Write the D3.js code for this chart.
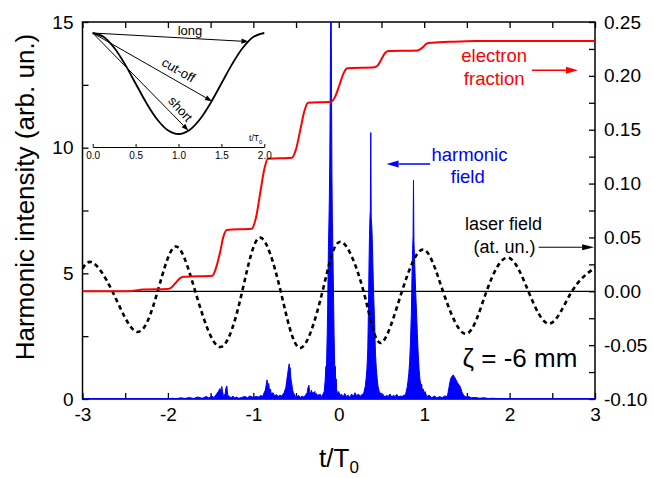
<!DOCTYPE html>
<html>
<head>
<meta charset="utf-8">
<script src="https://cdn.jsdelivr.net/npm/d3@7"></script>
<style>
  body { margin: 0; background: #fff; }
  svg { display: block; font-family: "Liberation Sans", Arial, sans-serif; }
</style>
</head>
<body>
<svg id="chart" width="654" height="478"></svg>
<script>
// ---- axis ticks ----
const xTicks = [-3, -2, -1, 0, 1, 2, 3];
const xMinor = [-2.5, -1.5, -0.5, 0.5, 1.5, 2.5];
const leftTicks = [0, 5, 10, 15];
const leftMinor = [2.5, 7.5, 12.5];
const rightTicks = [-0.10, -0.05, 0.00, 0.05, 0.10, 0.15, 0.20, 0.25];
const rightMinor = [-0.075, -0.025, 0.025, 0.075, 0.125, 0.175, 0.225];

// ---- laser field (at. un., right axis): extrema and zero crossings ----
const laserT = [-3.0, -2.88, -2.65, -2.36, -2.12, -1.91, -1.68, -1.39, -1.13, -0.92, -0.68, -0.45, -0.19,
                0.02, 0.29, 0.49, 0.74, 0.99, 1.22, 1.49, 1.73, 1.98, 2.22, 2.47, 2.73, 3.0];
const laserE = [0.021, 0.0266, 0, -0.0377, 0, 0.0415, 0, -0.0517, 0, 0.0498, 0, -0.0526, 0,
                0.046, 0, -0.048, 0, 0.0387, 0, -0.0395, 0, 0.0312, 0, -0.030, 0, 0.022];

// ---- ionized electron fraction (right axis) ----
const elecT = [-3, -2.5, -2.42, -2.36, -2.3, -2.0, -1.96, -1.91, -1.86, -1.82, -1.48, -1.44, -1.39, -1.35, -1.31,
               -1.02, -0.97, -0.92, -0.87, -0.83, -0.55, -0.5, -0.45, -0.4, -0.36, -0.09, -0.04, 0.01, 0.06, 0.1,
               0.42, 0.46, 0.5, 0.54, 0.58, 0.92, 0.95, 0.99, 1.02, 1.05, 1.3, 1.6, 3];
const elecF = [0, 0, 0.0003, 0.001, 0.0017, 0.0022, 0.0035, 0.0078, 0.012, 0.0134, 0.0145, 0.021, 0.036, 0.051, 0.057,
               0.058, 0.068, 0.091, 0.114, 0.123, 0.124, 0.132, 0.150, 0.168, 0.175, 0.176, 0.181, 0.192, 0.203, 0.207,
               0.208, 0.210, 0.2155, 0.221, 0.223, 0.2235, 0.2245, 0.227, 0.2295, 0.2305, 0.2316, 0.2324, 0.2324];

// ---- harmonic field intensity (left axis): [t/T0, intensity] ----
const harmonic = [
  [-3,0],[-2.0,0],[-1.95,0.03],[-1.9,0.01],[-1.85,0.05],[-1.8,0.02],[-1.75,0.06],[-1.7,0.02],[-1.65,0.08],[-1.6,0.03],
  [-1.55,0.1],[-1.52,0.04],[-1.49,0.12],
  [-1.46,0.06],[-1.43,0.2],[-1.41,0.3],[-1.39,0.42],[-1.38,0.22],[-1.37,0.5],[-1.36,0.3],[-1.35,0.1],[-1.33,0.2],
  [-1.32,0.45],[-1.31,0.52],[-1.3,0.15],[-1.28,0.1],[-1.26,0.05],[-1.24,0.12],[-1.22,0.04],[-1.2,0.08],[-1.17,0.03],
  [-1.14,0.06],[-1.1,0.1],[-1.07,0.05],[-1.04,0.12],[-1.0,0.06],[-0.97,0.1],[-0.94,0.08],[-0.91,0.14],[-0.89,0.1],
  [-0.88,0.2],[-0.86,0.35],[-0.85,0.55],[-0.84,0.76],[-0.83,0.5],[-0.82,0.62],[-0.81,0.3],[-0.8,0.4],[-0.79,0.2],
  [-0.77,0.25],[-0.75,0.12],[-0.73,0.18],[-0.71,0.1],[-0.69,0.15],[-0.67,0.12],[-0.65,0.2],
  [-0.64,0.25],[-0.62,0.45],[-0.61,0.7],[-0.6,0.95],[-0.59,1.2],[-0.58,1.4],[-0.575,1.1],[-0.57,1.25],[-0.56,0.8],
  [-0.55,0.6],[-0.54,0.35],[-0.53,0.25],[-0.51,0.12],[-0.49,0.08],[-0.47,0.15],[-0.45,0.06],[-0.43,0.12],[-0.41,0.08],
  [-0.39,0.15],
  [-0.37,0.25],[-0.36,0.45],[-0.35,0.55],[-0.34,0.3],[-0.33,0.2],[-0.32,0.35],[-0.31,0.2],[-0.3,0.28],[-0.29,0.15],
  [-0.28,0.3],[-0.27,0.12],[-0.26,0.22],[-0.25,0.1],[-0.24,0.18],[-0.23,0.08],[-0.22,0.2],[-0.21,0.1],
  [-0.19,0.15],[-0.17,0.3],[-0.16,0.7],[-0.15,1.3],[-0.145,0.9],[-0.14,1.8],[-0.135,2.6],[-0.13,3.5],[-0.125,5.0],
  [-0.12,6.2],[-0.115,7.0],[-0.11,8.0],[-0.105,9.5],[-0.1,12],[-0.095,15],[-0.09,17],[-0.085,12.5],[-0.08,9.0],
  [-0.075,7.2],[-0.07,6.2],[-0.065,5.0],[-0.06,3.8],[-0.055,2.6],[-0.05,1.8],[-0.045,1.0],[-0.04,1.3],[-0.035,0.6],
  [-0.03,0.8],[-0.025,0.4],[-0.02,0.3],[-0.01,0.15],[0,0.3],[0.01,0.1],[0.03,0.2],[0.05,0.08],[0.07,0.22],[0.09,0.1],
  [0.11,0.15],[0.13,0.06],[0.15,0.2],[0.17,0.1],[0.19,0.25],[0.21,0.12],[0.23,0.2],[0.25,0.1],[0.27,0.18],
  [0.29,0.2],[0.3,0.35],[0.31,0.5],[0.32,0.8],[0.33,1.2],[0.34,2.0],[0.345,3.0],[0.35,4.2],[0.355,5.5],[0.36,6.5],
  [0.365,7.2],[0.37,7.5],[0.375,10.6],[0.38,7.2],[0.385,7.0],[0.39,6.6],[0.395,6.0],[0.4,5.3],[0.405,4.6],[0.41,4.0],
  [0.415,3.5],[0.42,3.0],[0.425,2.4],[0.43,1.8],[0.44,1.2],[0.45,0.8],[0.46,0.5],[0.47,0.35],[0.48,0.2],[0.49,0.25],
  [0.5,0.1],
  [0.52,0.18],[0.54,0.08],[0.56,0.15],[0.58,0.1],[0.6,0.2],[0.62,0.08],[0.64,0.15],[0.66,0.1],[0.68,0.18],[0.7,0.08],
  [0.72,0.12],[0.74,0.1],[0.76,0.15],
  [0.78,0.15],[0.79,0.3],[0.8,0.45],[0.81,0.7],[0.82,1.0],[0.83,1.5],[0.84,2.3],[0.85,3.4],[0.855,4.4],[0.86,5.3],
  [0.865,6.0],[0.87,6.5],[0.875,8.7],[0.88,6.3],[0.885,5.8],[0.89,5.3],[0.895,4.8],[0.9,4.3],[0.91,3.5],[0.92,2.6],
  [0.93,1.8],[0.94,1.2],[0.95,0.8],[0.96,0.55],[0.97,0.6],[0.98,0.3],[0.99,0.4],[1.0,0.2],[1.01,0.3],[1.03,0.1],
  [1.06,0.15],[1.09,0.05],[1.12,0.12],[1.15,0.04],[1.18,0.1],[1.21,0.05],[1.24,0.12],
  [1.27,0.1],[1.28,0.25],[1.29,0.45],[1.3,0.65],[1.31,0.8],[1.32,0.88],[1.33,0.92],[1.34,0.96],[1.35,0.9],[1.36,0.85],
  [1.37,0.78],[1.38,0.72],[1.39,0.65],[1.4,0.6],[1.41,0.55],[1.42,0.5],[1.43,0.42],[1.44,0.3],[1.45,0.22],[1.47,0.12],
  [1.49,0.08],[1.52,0.1],[1.55,0.05],[1.6,0.06],[1.65,0.03],[1.7,0.05],[1.75,0.02],[1.8,0.03],[1.9,0.01],[2.0,0],[3,0]
];

// ---- inset: field cycle and electron trajectories ----
const insetT = [0, 0.125, 0.25, 0.375, 0.5, 0.625, 0.75, 0.875, 1, 1.125, 1.25, 1.375, 1.5, 1.625, 1.75, 1.875, 2];
const insetV = [1, 0.924, 0.707, 0.383, 0, -0.383, -0.707, -0.924, -1, -0.924, -0.707, -0.383, 0, 0.383, 0.707, 0.924, 1];
const insetTicks = [0, 0.5, 1, 1.5, 2];
const trajectories = [
  { name: "long",    end: 1.815, v: 0.83 },
  { name: "cut-off", end: 1.39,  v: -0.35 },
  { name: "short",   end: 1.115, v: -0.93 }
];

const svg = d3.select("#chart");
const L = 82.5, R = 595, T = 22, B = 399;

const x = d3.scaleLinear([-3, 3], [L, R]);
const yL = d3.scaleLinear([0, 15], [B, T]);
const yR = d3.scaleLinear([-0.10, 0.25], [B, T]);

svg.append("defs").append("clipPath").attr("id", "plotClip")
  .append("rect").attr("x", L).attr("y", T).attr("width", R - L).attr("height", B - T);

function styleAxis(g, fs) {
  g.select(".domain").remove();
  g.selectAll(".tick line").attr("stroke", "#000").attr("stroke-width", 1.3);
  g.selectAll(".tick text").attr("fill", "#000").style("font-size", fs + "px")
    .style("font-family", '"Liberation Sans", Arial, sans-serif');
}

// bottom axis
svg.append("g").attr("transform", `translate(0,${B})`)
  .call(d3.axisBottom(x).tickValues(xTicks).tickSize(-6).tickPadding(9).tickFormat(d => String(d)))
  .call(g => styleAxis(g, 19));
svg.append("g").attr("transform", `translate(0,${B})`)
  .call(d3.axisBottom(x).tickValues(xMinor).tickSize(-6).tickFormat(""))
  .call(g => styleAxis(g, 19));
// top axis
svg.append("g").attr("transform", `translate(0,${T})`)
  .call(d3.axisTop(x).tickValues(xTicks.concat(xMinor)).tickSize(-6).tickFormat(""))
  .call(g => styleAxis(g, 19));
// left axis
svg.append("g").attr("transform", `translate(${L},0)`)
  .call(d3.axisLeft(yL).tickValues(leftTicks).tickSize(-6).tickPadding(9).tickFormat(d => String(d)))
  .call(g => styleAxis(g, 19));
svg.append("g").attr("transform", `translate(${L},0)`)
  .call(d3.axisLeft(yL).tickValues(leftMinor).tickSize(-6).tickFormat(""))
  .call(g => styleAxis(g, 19));
// right axis
svg.append("g").attr("transform", `translate(${R},0)`)
  .call(d3.axisRight(yR).tickValues(rightTicks).tickSize(-6).tickPadding(9).tickFormat(d => d.toFixed(2)))
  .call(g => styleAxis(g, 19));
svg.append("g").attr("transform", `translate(${R},0)`)
  .call(d3.axisRight(yR).tickValues(rightMinor).tickSize(-6).tickFormat(""))
  .call(g => styleAxis(g, 19));

// frame
svg.append("rect").attr("x", L).attr("y", T).attr("width", R - L).attr("height", B - T)
  .attr("fill", "none").attr("stroke", "#000").attr("stroke-width", 1.5);

const plot = svg.append("g").attr("clip-path", "url(#plotClip)");

// harmonic field
plot.append("path").datum(harmonic)
  .attr("d", d3.area().x(d => x(d[0])).y0(yL(0)).y1(d => yL(d[1])))
  .attr("fill", "#0000ff").attr("stroke", "#0000ff").attr("stroke-width", 1);
plot.append("line").attr("x1", x(-3)).attr("x2", x(3)).attr("y1", yL(0)).attr("y2", yL(0))
  .attr("stroke", "#0000ff").attr("stroke-width", 1.5);

// zero line of laser field
plot.append("line").attr("x1", x(-3)).attr("x2", x(3)).attr("y1", yR(0)).attr("y2", yR(0))
  .attr("stroke", "#000").attr("stroke-width", 1.2);

// laser field
plot.append("path").datum(laserT.map((t, i) => [t, laserE[i]]))
  .attr("d", d3.line().x(d => x(d[0])).y(d => yR(d[1])).curve(d3.curveNatural))
  .attr("fill", "none").attr("stroke", "#000").attr("stroke-width", 2.6).attr("stroke-dasharray", "4.5,3.5");

// electron fraction
plot.append("path").datum(elecT.map((t, i) => [t, elecF[i]]))
  .attr("d", d3.line().x(d => x(d[0])).y(d => yR(d[1])).curve(d3.curveMonotoneX))
  .attr("fill", "none").attr("stroke", "#ff0000").attr("stroke-width", 2);

// arrows
function arrow(g, x1, y1, x2, y2, color, lw, len, hw) {
  const a = Math.atan2(y2 - y1, x2 - x1);
  const bx = x2 - len * Math.cos(a), by = y2 - len * Math.sin(a);
  g.append("line").attr("x1", x1).attr("y1", y1).attr("x2", bx).attr("y2", by)
    .attr("stroke", color).attr("stroke-width", lw);
  const px = -Math.sin(a) * hw, py = Math.cos(a) * hw;
  g.append("path").attr("d", `M${x2},${y2}L${bx + px},${by + py}L${bx - px},${by - py}Z`).attr("fill", color);
}

const ann = svg.append("g");
// electron fraction label
ann.append("text").attr("x", x(1.82)).attr("y", yR(0.2125)).attr("text-anchor", "middle")
  .attr("fill", "#ff0000").style("font-size", "18.5px").text("electron");
ann.append("text").attr("x", x(1.82)).attr("y", yR(0.1918)).attr("text-anchor", "middle")
  .attr("fill", "#ff0000").style("font-size", "18.5px").text("fraction");
arrow(ann, x(2.26), yR(0.2052), x(2.8), yR(0.2052), "#ff0000", 1.5, 12, 3.5);

// harmonic field label
ann.append("text").attr("x", x(1.53)).attr("y", yL(9.47)).attr("text-anchor", "middle")
  .attr("fill", "#0000ff").style("font-size", "18.5px").text("harmonic");
ann.append("text").attr("x", x(1.51)).attr("y", yL(8.6)).attr("text-anchor", "middle")
  .attr("fill", "#0000ff").style("font-size", "18.5px").text("field");
arrow(ann, x(1.07), yL(9.35), x(0.56), yL(9.35), "#0000ff", 1.5, 12, 3.5);

// laser field label
ann.append("text").attr("x", x(1.93)).attr("y", yR(0.057)).attr("text-anchor", "middle")
  .attr("fill", "#000").style("font-size", "18px").text("laser field");
ann.append("text").attr("x", x(1.94)).attr("y", yR(0.0356)).attr("text-anchor", "middle")
  .attr("fill", "#000").style("font-size", "18px").text("(at. un.)");
arrow(ann, x(2.34), yR(0.0409), x(2.99), yR(0.0409), "#000", 1, 12, 3);

// propagation distance
ann.append("text").attr("x", x(1.45)).attr("y", yR(-0.070)).attr("fill", "#000")
  .style("font-size", "26px").text("ζ = -6 mm");

// axis titles
svg.append("text").attr("transform", "translate(34,197) rotate(-90)").attr("text-anchor", "middle")
  .attr("fill", "#000").style("font-size", "26px").text("Harmonic intensity (arb. un.)");
const xt = svg.append("text").attr("x", 339).attr("y", 467).attr("text-anchor", "middle")
  .attr("fill", "#000").style("font-size", "26px");
xt.append("tspan").text("t/T");
xt.append("tspan").attr("dy", 6).style("font-size", "17px").text("0");

// ---- inset ----
const xi = d3.scaleLinear([0, 2], [92.7, 264.3]);
const yi = d3.scaleLinear([-1, 1], [134, 33]);
const inset = svg.append("g");
inset.append("g").attr("transform", "translate(0,147)")
  .call(d3.axisBottom(xi).tickValues(insetTicks).tickSize(-3).tickSizeOuter(0).tickPadding(4.5)
    .tickFormat(d => d.toFixed(1)))
  .call(g => {
    g.select(".domain").attr("stroke", "#000").attr("stroke-width", 1.1);
    g.selectAll(".tick line").attr("stroke", "#000").attr("stroke-width", 1);
    g.selectAll(".tick text").attr("fill", "#000").style("font-size", "10px")
      .style("font-family", '"Liberation Sans", Arial, sans-serif');
  });
const it = inset.append("text").attr("x", xi(1.9)).attr("y", 141).attr("text-anchor", "middle")
  .attr("fill", "#000").style("font-size", "8.5px");
it.append("tspan").text("t/T");
it.append("tspan").attr("dy", 2.5).style("font-size", "6px").text("0");

inset.append("path").datum(insetT.map((t, i) => [t, insetV[i]]))
  .attr("d", d3.line().x(d => xi(d[0])).y(d => yi(d[1])).curve(d3.curveCatmullRom))
  .attr("fill", "none").attr("stroke", "#000").attr("stroke-width", 1.8);

trajectories.forEach(tr => {
  arrow(inset, xi(0), yi(1), xi(tr.end), yi(tr.v), "#000", 1, 7, 2.6);
});
inset.append("text").attr("x", 190).attr("y", 34.5).attr("text-anchor", "middle")
  .attr("fill", "#000").style("font-size", "13px").text(trajectories[0].name);
inset.append("text").attr("transform", "translate(178.5,70) rotate(30)").attr("text-anchor", "middle")
  .attr("dy", "0.35em").attr("fill", "#000").style("font-size", "13px").text(trajectories[1].name);
inset.append("text").attr("transform", "translate(180.5,109) rotate(48)").attr("text-anchor", "middle")
  .attr("dy", "0.35em").attr("fill", "#000").style("font-size", "13px").text(trajectories[2].name);
</script>
</body>
</html>
